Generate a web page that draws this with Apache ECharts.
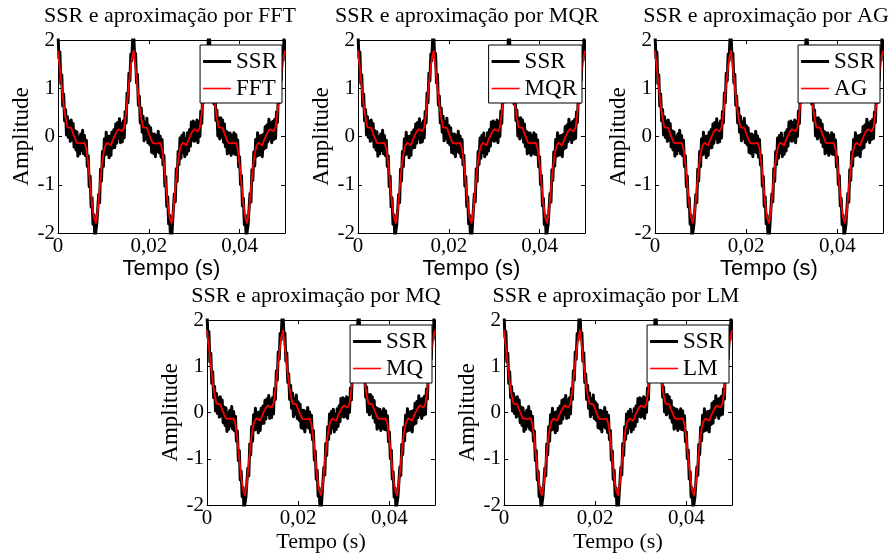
<!DOCTYPE html>
<html><head><meta charset="utf-8">
<script src="https://cdn.jsdelivr.net/npm/echarts@6/dist/echarts.min.js"></script>
<style>html,body{margin:0;padding:0;background:#fff}#c{width:892px;height:555px}</style>
</head><body><div id="c"></div>
<script>
// ---------------- data ----------------
const PERIOD = 1 / 60;               // s, 60 Hz fundamental
const SSR_STEPS_PER_PERIOD = 80;     // sampling of the SSR trace
const FIT_STEPS_PER_PERIOD = 40;     // sampling of the fitted curve
const X_MAX = 0.05;

const methods = ['FFT', 'MQR', 'AG', 'MQ', 'LM'];
const plotTitles = [
  'SSR e aproximação por FFT',
  'SSR e aproximação por MQR',
  'SSR e aproximação por AG',
  'SSR e aproximação por MQ',
  'SSR e aproximação por LM'
];
const xTickValues = [0, 0.02, 0.04];
const xTickLabels = ['0', '0,02', '0,04'];
const yTickValues = [-2, -1, 0, 1, 2];
const yTickLabels = ['-2', '-1', '0', '1', '2'];

const ssrValues = [
  2.15, 1.62, 1.75, 1.10, 1.28, 0.63, 0.88, 0.32, 0.56, 0.03, 0.41, -0.02, 0.32, -0.10, 0.34, -0.07, 0.27, -0.22, 0.12, -0.28,
  0.10, -0.41, -0.01, -0.36, 0.05, -0.29, 0.13, -0.36, 0.02, -0.40, -0.08, -0.62, -0.40, -1.04, -0.82, -1.46, -1.27, -1.82, -1.62, -2.12,
  -2.15, -1.81, -1.84, -1.20, -1.37, -0.68, -0.92, -0.31, -0.62, -0.05, -0.38, 0.09, -0.36, 0.00, -0.44, 0.01, -0.39, 0.09, -0.24, 0.14,
  -0.23, 0.26, -0.14, 0.29, -0.04, 0.37, -0.13, 0.27, -0.11, 0.32, -0.03, 0.52, 0.28, 0.90, 0.70, 1.31, 1.15, 1.71, 1.57, 2.06,
  2.15, 1.65, 1.72, 1.11, 1.29, 0.65, 0.84, 0.28, 0.59, 0.09, 0.42, -0.09, 0.30, -0.04, 0.38, -0.13, 0.23, -0.17, 0.18, -0.33,
  0.05, -0.35, 0.05, -0.42, 0.02, -0.31, 0.11, -0.34, 0.01, -0.43, -0.06, -0.59, -0.39, -1.03, -0.83, -1.45, -1.25, -1.81, -1.63, -2.10,
  -2.16, -1.83, -1.85, -1.19, -1.35, -0.67, -0.93, -0.31, -0.58, -0.03, -0.45, 0.02, -0.33, 0.07, -0.42, -0.04, -0.37, 0.08, -0.30, 0.14,
  -0.20, 0.30, -0.08, 0.32, -0.10, 0.29, -0.08, 0.34, -0.13, 0.31, 0.00, 0.53, 0.27, 0.89, 0.71, 1.33, 1.17, 1.72, 1.59, 2.05,
  2.16, 1.63, 1.74, 1.08, 1.27, 0.67, 0.91, 0.33, 0.55, 0.01, 0.38, -0.05, 0.39, -0.01, 0.34, -0.12, 0.26, -0.21, 0.11, -0.36,
  0.08, -0.33, 0.07, -0.39, 0.02, -0.34, 0.08, -0.37, 0.04, -0.38, -0.07, -0.63, -0.42, -1.00, -0.81, -1.44, -1.28, -1.83, -1.63, -2.11,
  -2.15, -1.82, -1.83, -1.18, -1.36, -0.69, -0.91, -0.32, -0.61, -0.06, -0.41, 0.08, -0.39, 0.01, -0.38, 0.02, -0.42, 0.04, -0.26, 0.20,
  -0.23, 0.24, -0.11, 0.36, -0.05, 0.28, -0.13, 0.31, -0.06, 0.35, -0.04, 0.51, 0.29, 0.90, 0.70, 1.30, 1.16, 1.71, 1.58, 2.06,
  2.15
];

// fitted approximation (same curve for every method)
const fitValues = [
  1.78, 1.41, 1.02, 0.65, 0.38, 0.19, 0.15, 0.18, 0.06, -0.04, -0.13, -0.16, -0.14, -0.11, -0.13, -0.26, -0.58, -1.00, -1.40, -1.68,
  -1.79, -1.53, -1.08, -0.66, -0.36, -0.19, -0.13, -0.17, -0.18, -0.07, 0.02, 0.10, 0.15, 0.13, 0.11, 0.19, 0.50, 0.90, 1.28, 1.60,
  1.78, 1.41, 1.03, 0.65, 0.38, 0.19, 0.15, 0.18, 0.07, -0.04, -0.13, -0.16, -0.15, -0.11, -0.13, -0.26, -0.58, -1.00, -1.40, -1.68,
  -1.79, -1.53, -1.08, -0.66, -0.36, -0.19, -0.13, -0.17, -0.18, -0.07, 0.02, 0.10, 0.15, 0.13, 0.11, 0.19, 0.50, 0.90, 1.28, 1.60,
  1.78, 1.41, 1.02, 0.65, 0.38, 0.19, 0.15, 0.18, 0.06, -0.04, -0.13, -0.16, -0.14, -0.11, -0.13, -0.26, -0.58, -1.00, -1.40, -1.68,
  -1.79, -1.53, -1.08, -0.66, -0.36, -0.19, -0.13, -0.17, -0.18, -0.07, 0.02, 0.10, 0.15, 0.13, 0.11, 0.19, 0.50, 0.90, 1.28, 1.60,
  1.78
];

// ---------------- layout / style ----------------
const W = 892;
const SERIF = '"Liberation Serif", "Times New Roman", serif';
const SANS = '"Liberation Sans", Arial, sans-serif';
const layout = [
  { left: 58,  top: 40,  width: 227, height: 193, sansX: true,  titleX: 170, titleY: 5 },
  { left: 358, top: 40,  width: 227, height: 193, sansX: true,  titleX: 467, titleY: 5 },
  { left: 655, top: 40,  width: 228, height: 193, sansX: true,  titleX: 766, titleY: 5 },
  { left: 207, top: 320, width: 228, height: 185, sansX: false, titleX: 316, titleY: 285 },
  { left: 504, top: 320, width: 228, height: 185, sansX: false, titleX: 616, titleY: 285 }
];
const SSR_ICON = 'path://M0,0H28V3H0Z';
const FIT_ICON = 'path://M0,0H28V1.6H0Z';

function fmtX(v) {
  const i = xTickValues.findIndex(t => Math.abs(t - v) < 1e-9);
  return i >= 0 ? xTickLabels[i] : '';
}
function fmtY(v) {
  const i = yTickValues.findIndex(t => Math.abs(t - v) < 1e-9);
  return i >= 0 ? yTickLabels[i] : '';
}

const ssrData = ssrValues.map((v, j) => [j * PERIOD / SSR_STEPS_PER_PERIOD, v]);
const fitData = fitValues.map((v, k) => [k * PERIOD / FIT_STEPS_PER_PERIOD, v]);

const grids = [], xAxes = [], yAxes = [], series = [], legends = [], titles = [];
const axisCommonLine = { show: true, onZero: false, lineStyle: { color: '#000', width: 1 } };
const tickInside = { show: true, inside: true, length: 4, lineStyle: { color: '#000', width: 1 } };

layout.forEach((g, i) => {
  grids.push({ left: g.left, top: g.top, width: g.width, height: g.height, containLabel: false, outerBoundsMode: 'none', show: false });
  xAxes.push({
    type: 'value', gridIndex: i, position: 'bottom', min: 0, max: X_MAX, interval: 0.02,
    axisLine: axisCommonLine, axisTick: tickInside,
    axisLabel: { show: true, color: '#000', fontFamily: SERIF, fontSize: 21, margin: 3, formatter: fmtX, showMaxLabel: false },
    splitLine: { show: false },
    name: 'Tempo (s)', nameLocation: 'middle', nameGap: g.sansX ? 25 : 26,
    nameTextStyle: { fontFamily: g.sansX ? SANS : SERIF, fontSize: 22, color: '#000' }
  });
  xAxes.push({
    type: 'value', gridIndex: i, position: 'top', min: 0, max: X_MAX, interval: 0.02,
    axisLine: axisCommonLine, axisTick: tickInside, axisLabel: { show: false }, splitLine: { show: false }
  });
  yAxes.push({
    type: 'value', gridIndex: i, position: 'left', min: -2, max: 2, interval: 1,
    axisLine: axisCommonLine, axisTick: tickInside,
    axisLabel: { show: true, color: '#000', fontFamily: SERIF, fontSize: 21, margin: 3, formatter: fmtY },
    splitLine: { show: false },
    name: 'Amplitude', nameLocation: 'middle', nameGap: 25, nameRotate: 90,
    nameTextStyle: { fontFamily: SERIF, fontSize: 23, color: '#000' }
  });
  yAxes.push({
    type: 'value', gridIndex: i, position: 'right', min: -2, max: 2, interval: 1,
    axisLine: axisCommonLine, axisTick: tickInside, axisLabel: { show: false }, splitLine: { show: false }
  });
  series.push({
    type: 'line', name: 'SSR', xAxisIndex: 2 * i, yAxisIndex: 2 * i, data: ssrData,
    symbol: 'none', showSymbol: false, clip: true, silent: true, z: 2,
    lineStyle: { color: '#000', width: 3, join: 'round', cap: 'round' }, itemStyle: { color: '#000' }
  });
  series.push({
    type: 'line', name: methods[i], xAxisIndex: 2 * i, yAxisIndex: 2 * i, data: fitData,
    symbol: 'none', showSymbol: false, clip: true, silent: true, z: 3,
    lineStyle: { color: '#ff0000', width: 1.8, join: 'round' }, itemStyle: { color: '#ff0000' }
  });
  legends.push({
    orient: 'vertical', right: W - (g.left + g.width) + 3, top: g.top + 5,
    data: [{ name: 'SSR', icon: SSR_ICON }, { name: methods[i], icon: FIT_ICON }],
    itemWidth: 28, itemHeight: 14, itemGap: 4, padding: [5, 5, 3, 3],
    backgroundColor: '#fff', borderColor: '#000', borderWidth: 1, borderRadius: 0,
    symbolKeepAspect: true, selectedMode: false,
    itemStyle: { borderWidth: 0 },
    textStyle: { color: '#000', fontFamily: SERIF, fontSize: 23, padding: [0, 0, 0, 0] }
  });
  titles.push({
    text: plotTitles[i], left: g.titleX, top: g.titleY, textAlign: 'center', padding: 0,
    textStyle: { color: '#000', fontFamily: SERIF, fontSize: 22, fontWeight: 'normal' }
  });
});

const chart = echarts.init(document.getElementById('c'), null, { renderer: 'canvas' });
chart.setOption({
  animation: false,
  backgroundColor: '#fff',
  title: titles,
  grid: grids,
  xAxis: xAxes,
  yAxis: yAxes,
  legend: legends,
  series: series
});
</script>
</body></html>
